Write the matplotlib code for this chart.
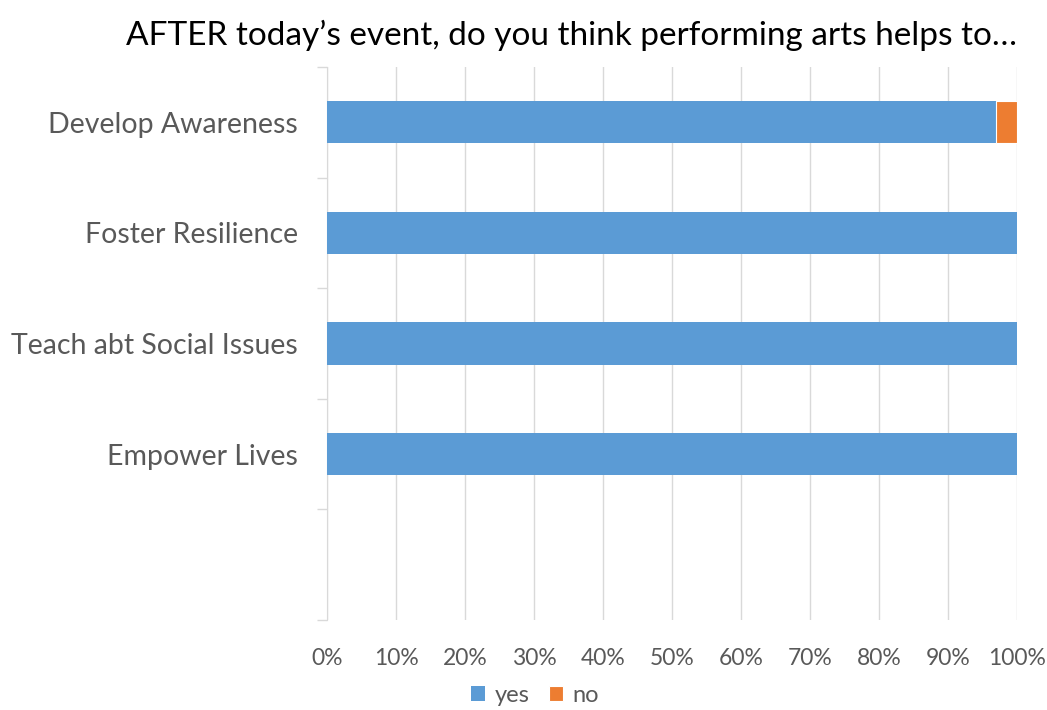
import matplotlib
matplotlib.use("Agg")
import matplotlib.pyplot as plt
from matplotlib.ticker import FixedLocator, PercentFormatter

categories = ["Develop Awareness", "Foster Resilience", "Teach abt Social Issues", "Empower Lives", ""]
yes_vals = [97, 100, 100, 100, 0]
no_vals = [3, 0, 0, 0, 0]
xticks = list(range(0, 101, 10))

plt.rcParams['font.family'] = ['Lato', 'DejaVu Sans']

fig = plt.figure(figsize=(10.47, 7.10), dpi=100)
ax = fig.add_axes([327/1047, 1 - 620/710, 690/1047, (620-67)/710])

ypos = list(range(len(categories)))
h = 0.38
ax.barh(ypos, yes_vals, height=h, color="#5B9BD5", label="yes", zorder=3)
ax.barh(ypos, no_vals, left=yes_vals, height=h, color="#ED7D31", label="no", zorder=3,
        edgecolor=["white" if v > 0 else "none" for v in no_vals], linewidth=0.8)

ax.set_xlim(0, 100)
ax.set_ylim(len(categories) - 0.5, -0.5)
ax.set_xticks(xticks)
ax.xaxis.set_major_formatter(PercentFormatter(decimals=0))
ax.tick_params(axis='x', length=0, labelsize=16.5, colors="#595959", pad=20)
ax.set_yticks(ypos)
ax.set_yticklabels(categories)
ax.tick_params(axis='y', which='major', length=0, labelsize=20.5, colors="#595959", pad=21)
ax.yaxis.set_minor_locator(FixedLocator([i - 0.5 for i in range(len(categories) + 1)]))
ax.tick_params(axis='y', which='minor', length=7, color="#D9D9D9", width=1)

ax.grid(axis='x', color="#D9D9D9", linewidth=1, zorder=0)
for s in ["top", "right", "bottom"]:
    ax.spines[s].set_visible(False)
ax.spines["left"].set_color("#D9D9D9")

fig.text(572/1047, 1 - 35/710, "AFTER today\u2019s event, do you think performing arts helps to\u2026",
         ha="center", va="center", fontsize=24, color="#000000")

leg = fig.legend(loc="center", bbox_to_anchor=(535/1047, 1 - 695/710), ncol=2, frameon=False,
                 fontsize=17, handlelength=0.6, handleheight=0.6, handletextpad=0.4, columnspacing=0.8)
for t in leg.get_texts():
    t.set_color("#595959")

fig.savefig("out.png", dpi=100)
